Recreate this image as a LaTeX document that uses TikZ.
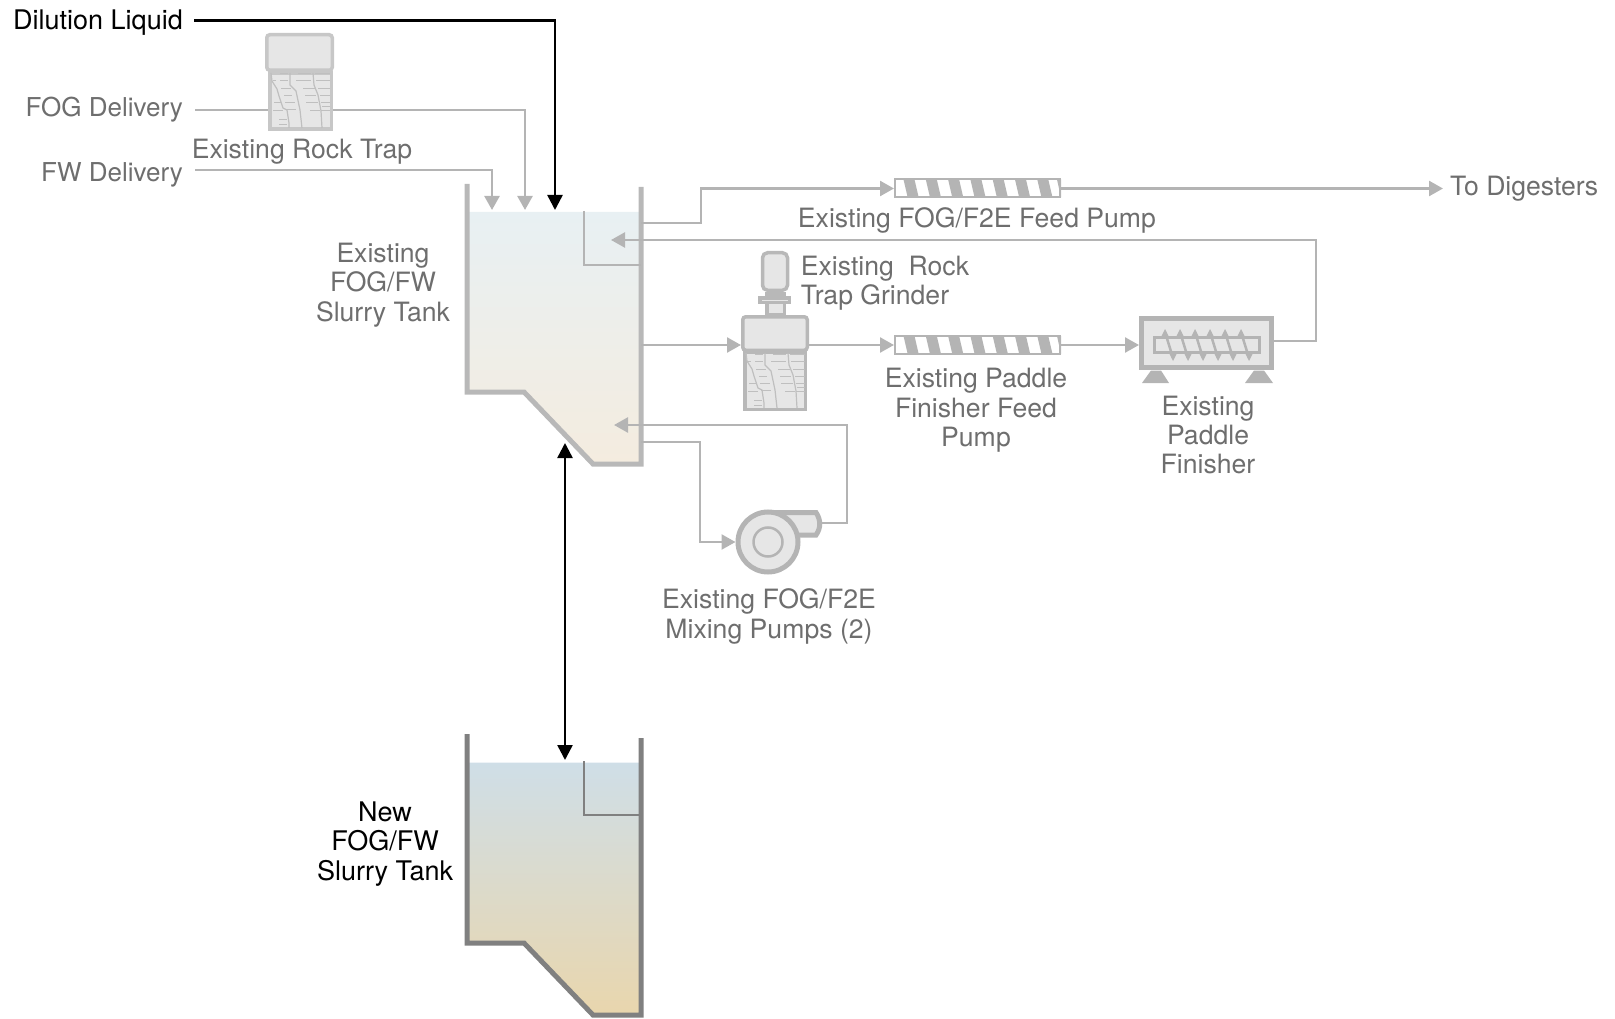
\documentclass[tikz,border=0pt]{standalone}
\usepackage{fontspec}
\setmainfont{TeX Gyre Heros}
\usetikzlibrary{arrows.meta, positioning}
\definecolor{pipegray}{HTML}{B4B4B4}
\definecolor{equipfill}{HTML}{E6E6E6}
\definecolor{labelgray}{HTML}{6E6E6E}
\definecolor{wallgray}{HTML}{B8B8B8}
\definecolor{newwall}{HTML}{808080}
\definecolor{oldtop}{HTML}{E8F0F3}
\definecolor{oldbot}{HTML}{F4ECDF}
\definecolor{newtopc}{HTML}{CFDEE7}
\definecolor{newbot}{HTML}{E9D6AD}

\begin{document}
\begin{tikzpicture}[
    x=1pt, y=-1pt,
    label/.style={font=\fontsize{26.6}{29.3}\selectfont, text=labelgray, align=center, inner sep=0},
    newlabel/.style={label, font=\fontsize{27}{29.3}\selectfont, text=black},
    inlabel/.style={label, font=\fontsize{26}{29.3}\selectfont},
    pipe/.style={draw=pipegray, line width=2.5pt},
    arrow/.style={pipe, -{Triangle[length=14pt,width=15pt]}},
    blackarrow/.style={draw=black, line width=2.5pt, -{Triangle[length=15pt,width=15pt]}},
    blackboth/.style={draw=black, line width=2.5pt, {Triangle[length=15pt,width=15pt]}-{Triangle[length=15pt,width=15pt]}},
    equip/.style={draw=wallgray, fill=equipfill, line width=3.5pt, inner sep=0},
    trapedge/.style={equip, draw=pipegray!75},
    screwpump/.style={draw=pipegray, fill=white, line width=2pt, inner sep=0, minimum width=165pt, minimum height=18pt},
    rockbody/.pic={
        \draw[pipegray!85, line width=1.2pt] (1,0) -- (2,8) -- (7,16) -- (9,23) -- (13,35) -- (17,37) -- (19,50) -- (19,55);
        \draw[pipegray!85, line width=1.2pt] (20,0) -- (20,12) -- (26,18) -- (30,37) -- (32,55);
        \draw[pipegray!85, line width=1.2pt] (43,0) -- (44,12) -- (48,22) -- (51,38) -- (52,55);
        \foreach \xa/\xb/\yy in {10/18/1, 3/6/8, 10/18/8, 11/21/16, 14/22/23, 15/25/30, 16/26/37, 4/11/30, 3/13/38, 9/17/47, 9/17/52, 28/41/1, 26/41/8, 33/45/16, 35/46/23, 36/48/30, 40/50/38, 45/60/1, 46/60/8, 48/60/16, 50/60/23, 51/60/30, 52/60/34, 51/60/38}
            \draw[pipegray!85, line width=1pt] (\xa,\yy) -- (\xb,\yy);
    },
    screwbands/.pic={
        \foreach \i in {0,...,6}
            \fill[pipegray] (9.5+22.3*\i,-9) -- ++(11,0) -- ++(4.2,18) -- ++(-11,0) -- cycle;
        \fill[pipegray] (163,-9) -- (167,-9) -- (167,9) -- cycle;
    }
]
\useasboundingbox (0,0) rectangle (1615,1019);

% Existing tank
\shade[top color=oldtop, bottom color=oldbot] (467,212) -- (467,392) -- (524,392) -- (593,464) -- (641,464) -- (641,212) -- cycle;
\draw[wallgray, line width=5pt] (467,184) -- (467,392) -- (524,392) -- (593,464) -- (641,464) -- (641,187);
\draw[pipegray, line width=2.5pt] (584,211) -- (584,265) -- (641,265);
\node[label] (oldtanklabel) at (383,285) {Existing\\FOG/FW\\Slurry Tank};

% New tank
\shade[top color=newtopc, bottom color=newbot] (467,762.5) -- (467,943) -- (524,943) -- (593,1015) -- (641,1015) -- (641,762.5) -- cycle;
\draw[newwall, line width=5pt] (467,734) -- (467,943) -- (524,943) -- (593,1015) -- (641,1015) -- (641,738);
\draw[newwall, line width=2.5pt] (584,761) -- (584,815) -- (641,815);
\node[newlabel] (newtanklabel) at (385,844) {New\\FOG/FW\\Slurry Tank};

% Rock trap
\node[trapedge, minimum width=61.5pt, minimum height=56pt] (rocktrap) at (300.5,101) {};
\pic at (270,73) {rockbody};
\node[trapedge, rounded corners=3pt, minimum width=65.5pt, minimum height=35.5pt] (trapcap) at (299.5,52.5) {};
\node[label] (traplabel) at (302,151.5) {Existing Rock Trap};

% Grinder
\node[equip, minimum width=60.5pt, minimum height=57pt] (grinder) at (775,381) {};
\pic at (745,353) {rockbody};
\node[equip, minimum width=17.5pt, minimum height=20.5pt] (stem) at (775.5,304) {};
\node[equip, minimum width=29.5pt, minimum height=4.5pt] (collar) at (774.5,300) {};
\node[equip, rounded corners=5pt, minimum width=25pt, minimum height=37.5pt] (motor) at (775,271.5) {};
\node[equip, rounded corners=3pt, minimum width=64.5pt, minimum height=33.5pt] (grindcap) at (775,333.5) {};
\node[label, align=left] (grinderlabel) at (885,283) {Existing~ Rock\\Trap Grinder};

% Screw pumps
\node[screwpump] (feedpump) at (977.5,188.5) {};
\pic at (feedpump.west) {screwbands};
\node[label] (feedlabel) at (977,220) {Existing FOG/F2E Feed Pump};
\node[screwpump] (finisherpump) at (977.5,345) {};
\pic at (finisherpump.west) {screwbands};
\node[label] (finisherpumplabel) at (976,410.5) {Existing Paddle\\Finisher Feed\\Pump};

% Paddle finisher
\node[equip, draw=pipegray, line width=5pt, minimum width=130pt, minimum height=49pt] (finisher) at (1206.5,343) {};
\node[draw=pipegray, line width=2.5pt, inner sep=0, minimum width=105pt, minimum height=15pt] (screw) at (1207,345) {};
\foreach \px/\qx in {1165/1173, 1180/1188, 1195/1203, 1210/1218, 1225/1233, 1241/1249} {
    \draw[pipegray, line width=2.5pt] (\px,332) -- (\qx,358);
    \fill[pipegray] (\px-4.5,338) -- (\px,329) -- (\px+4.5,338) -- cycle;
    \fill[pipegray] (\qx-4.5,352) -- (\qx,361) -- (\qx+4.5,352) -- cycle;
}
\fill[pipegray] (1142,383) -- (1151,370.5) -- (1161,370.5) -- (1169,383) -- cycle;
\fill[pipegray] (1245,383) -- (1254,370.5) -- (1264,370.5) -- (1273,383) -- cycle;
\node[label] (finisherlabel) at (1208,435) {Existing\\Paddle\\Finisher};

% Mixing pump
\draw[equip, draw=pipegray, line width=5pt] (768,512.5) -- (816,512.5) .. controls (821,520) and (821,528) .. (816,535) -- (770,535) -- cycle;
\node[circle, equip, draw=pipegray, line width=5pt, minimum size=60pt] (mixpump) at (768,542) {};
\node[circle, draw=pipegray, line width=2.5pt, inner sep=0, minimum size=29pt] (mixhub) at (768,542) {};
\node[label] (mixlabel) at (769,616.5) {Existing FOG/F2E\\Mixing Pumps (2)};
\coordinate (pumpout) at (820,523);

% Inputs
\node[newlabel, anchor=east] (dilution) at (183,23) {Dilution Liquid};
\node[inlabel, anchor=east] (fogin) at (183,110) {FOG Delivery};
\node[inlabel, anchor=east] (fwin) at (183,175) {FW Delivery};
\node[label, anchor=west] (digesters) at (1450,189) {To Digesters};
\coordinate (dilstart) at (194,20.5);
\coordinate (fogstart) at (195,110);
\coordinate (fwstart) at (195,170);
\coordinate (fwtip) at (492,210);
\coordinate (fogtip) at (525,210);
\coordinate (dilutiontip) at (555,210);
\coordinate (overflow) at (611,240);
\coordinate (mixtip) at (614,425);
\coordinate (oldbottom) at (565,443);
\coordinate (newtop) at (565,760);

% Connections - inputs
\draw[blackarrow] (dilstart) -| (dilutiontip);
\draw[pipe] (fogstart) -- (rocktrap.west |- fogstart);
\draw[arrow] (rocktrap.east |- fogstart) -| (fogtip);
\draw[arrow] (fwstart) -| (fwtip);

% Connections - equipment
\draw[arrow] (641,223) -- (701,223) |- (feedpump.west);
\draw[arrow] (feedpump.east) -- (1443,188.5);
\draw[arrow] (641,345) -- (grindcap.west |- 0,345);
\draw[arrow] (grindcap.east |- 0,345) -- (finisherpump.west);
\draw[arrow] (finisherpump.east) -- (finisher.west |- 0,345);
\draw[arrow] (finisher.east |- 0,341) -- (1316,341) |- (overflow);
\draw[arrow] (pumpout) -| (847,425) -- (mixtip);
\draw[arrow] (641,442) -| (700,542) -- (mixpump.west);
\draw[blackboth] (oldbottom) -- (newtop);

\end{tikzpicture}
\end{document}
